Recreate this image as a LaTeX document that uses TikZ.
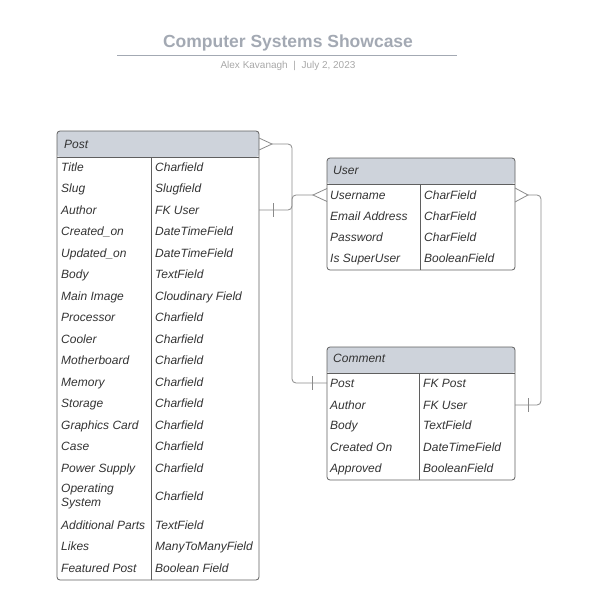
\documentclass[tikz,border=0pt]{standalone}
\usepackage{fontspec}
\setmainfont{Liberation Sans}
\definecolor{bordc}{HTML}{5F5F5F}
\definecolor{hdrc}{HTML}{CED3DB}
\definecolor{txtc}{HTML}{333333}
\definecolor{linkc}{HTML}{8A8A8A}
\definecolor{titlec}{HTML}{A3A9B3}
\definecolor{subc}{HTML}{A8A8A8}
\begin{document}
\begin{tikzpicture}[x=1pt,y=-1pt,
  tbl/.style={draw=bordc, line width=0.8pt, rounded corners=3pt, anchor=north west, inner sep=0pt, outer sep=0pt,
    path picture={\fill[hdrc] (path picture bounding box.north west) rectangle ([yshift=-26pt]path picture bounding box.north east);}},
  fldml/.style={anchor=west, inner sep=0pt, text=txtc, font=\fontsize{12}{14}\selectfont\itshape, align=left},
  fld/.style={fldml, text height=8.6pt, text depth=0pt},
  sep/.style={draw=bordc, line width=0.8pt},
  link/.style={draw=linkc, line width=0.8pt, rounded corners=4pt},
  endmark/.style={draw=linkc, line width=0.8pt}
]
\useasboundingbox (0,0) rectangle (600,607);

% title
\node[inner sep=0pt, text=titlec, font=\fontsize{17.5}{20}\selectfont\bfseries] (title) at (288,43) {Computer Systems Showcase};
\draw[draw=titlec, line width=0.8pt] (117,55) -- (457,55);
\node[inner sep=0pt, text=subc, font=\fontsize{10}{12}\selectfont] (sub) at (288,66) {Alex Kavanagh\ \ |\ \ July 2, 2023};

% Post table
\node[tbl, minimum width=202pt, minimum height=449pt] (post) at (57,131) {};
\draw[sep] (57,157) -- (259,157);
\draw[sep] (151,157) -- (151,580);
\node[fld] (post-h) at (64,144) {Post};
\foreach \n/\a/\b/\y in {title/Title/Charfield/167, slug/Slug/Slugfield/188, author/Author/FK User/210,
  created/Created\_on/DateTimeField/231, updated/Updated\_on/DateTimeField/253, body/Body/TextField/274,
  image/Main Image/Cloudinary Field/296, proc/Processor/Charfield/317, cooler/Cooler/Charfield/339,
  mobo/Motherboard/Charfield/360, mem/Memory/Charfield/382, stor/Storage/Charfield/403,
  gpu/Graphics Card/Charfield/425, case/Case/Charfield/446, psu/Power Supply/Charfield/468,
  parts/Additional Parts/TextField/525, likes/Likes/ManyToManyField/546,
  feat/Featured Post/Boolean Field/568}{
  \node[fld] (post-\n) at (61,\y) {\a};
  \node[fld] (post-\n-t) at (155,\y) {\b};
}
\node[fldml] (post-os) at (61,496) {Operating\\System};
\node[fld] (post-os-t) at (155,496) {Charfield};

% User table
\node[tbl, minimum width=188pt, minimum height=112pt] (user) at (327,158) {};
\draw[sep] (327,184) -- (515,184);
\draw[sep] (420,184) -- (420,270);
\node[fld] (user-h) at (333,170) {User};
\foreach \n/\a/\b/\y in {username/Username/CharField/195, email/Email Address/CharField/216,
  pass/Password/CharField/237, super/Is SuperUser/BooleanField/258}{
  \node[fld] (user-\n) at (330,\y) {\a};
  \node[fld] (user-\n-t) at (424,\y) {\b};
}

% Comment table
\node[tbl, minimum width=188pt, minimum height=133pt] (comment) at (327,347) {};
\draw[sep] (327,373) -- (515,373);
\draw[sep] (419,373) -- (419,480);
\node[fld] (comment-h) at (333,358) {Comment};
\foreach \n/\a/\b/\y in {post/Post/FK Post/383, author/Author/FK User/405,
  body/Body/TextField/425, created/Created On/DateTimeField/447, approved/Approved/BooleanField/468}{
  \node[fld] (comment-\n) at (330,\y) {\a};
  \node[fld] (comment-\n-t) at (423,\y) {\b};
}

% Connector 1: Post (many) -- Comment.Post (one)
\coordinate (c1a) at (post.east |- post-h);
\coordinate (c1b) at (comment.west |- comment-post);
\draw[endmark] ([yshift=6pt]c1a) -- ([xshift=13pt]c1a) -- ([yshift=-6pt]c1a);
\draw[link] ([xshift=13pt]c1a) -| ([xshift=-35pt]c1b) -- (c1b);
\draw[endmark] ([xshift=-15pt,yshift=7pt]c1b) -- ([xshift=-15pt,yshift=-7pt]c1b);

% Connector 2: Post.Author (one) -- User.Username (many)
\coordinate (c2a) at (post.east |- post-author);
\coordinate (c2b) at (user.west |- user-username);
\draw[link] (c2a) -| ([xshift=-35pt]c2b) -- ([xshift=-14pt]c2b);
\draw[endmark] ([xshift=14pt,yshift=7pt]c2a) -- ([xshift=14pt,yshift=-7pt]c2a);
\draw[endmark] ([yshift=6.5pt]c2b) -- ([xshift=-14pt]c2b) -- ([yshift=-6.5pt]c2b);

% Connector 3: User.Username (many) -- Comment.Author (one)
\coordinate (c3a) at (user.east |- user-username);
\coordinate (c3b) at (comment.east |- comment-author);
\draw[endmark] ([yshift=7pt]c3a) -- ([xshift=13pt]c3a) -- ([yshift=-7pt]c3a);
\draw[link] ([xshift=13pt]c3a) -| ([xshift=26pt]c3b) -- (c3b);
\draw[endmark] ([xshift=13pt,yshift=7pt]c3b) -- ([xshift=13pt,yshift=-7pt]c3b);
\end{tikzpicture}
\end{document}
